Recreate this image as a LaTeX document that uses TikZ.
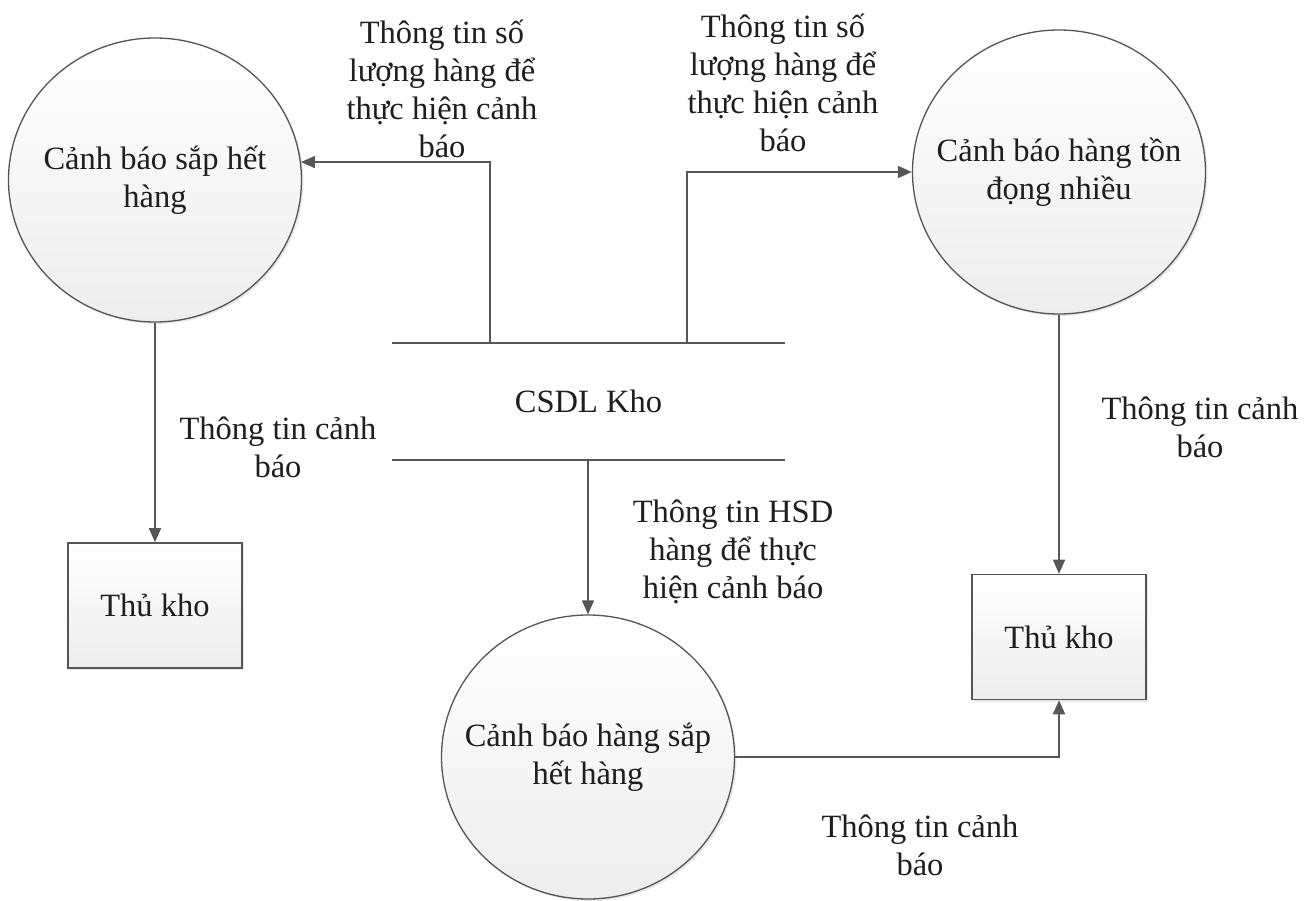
\documentclass[tikz,border=0pt]{standalone}
\usepackage{fontspec}
\setmainfont{Liberation Serif}
\usetikzlibrary{arrows.meta,shapes.geometric,shadows,calc}
\definecolor{linegray}{HTML}{555555}
\definecolor{txt}{HTML}{1E1E1E}
\begin{document}
\begin{tikzpicture}[x=1pt,y=-1pt,
  every node/.style={font=\fontsize{32.5}{38}\selectfont, text=txt},
  proc/.style={ellipse, draw=linegray, line width=1.3pt,
    minimum width=293pt, minimum height=284pt, inner sep=0pt,
    top color=white, bottom color=gray!14,
    drop shadow={opacity=0.18, shadow xshift=2pt, shadow yshift=-2pt},
    label={[align=center, inner sep=0pt, text=txt]center:#1}},
  ent/.style={rectangle, draw=linegray, line width=1.6pt,
    minimum width=174pt, minimum height=125pt, inner sep=0pt,
    top color=white, bottom color=gray!14,
    drop shadow={opacity=0.18, shadow xshift=2pt, shadow yshift=-2pt}},
  lbl/.style={align=center, inner sep=0pt},
  flow/.style={draw=linegray, line width=1.6pt,
    -{Triangle[length=14pt,width=12pt]}},
  storeline/.style={draw=linegray, line width=1.6pt}
]
\useasboundingbox (0,0) rectangle (1315,901);
\begin{scope}
\clip (0,0) rectangle (1315,901);

% processes (text carried by a centred label so the ellipse keeps its size)
\node[proc={Cảnh báo sắp hết\\hàng}] (c1) at (155,180) {};
\node[proc={Cảnh báo hàng tồn\\đọng nhiều}] (c2) at (1059,172) {};
\node[proc={Cảnh báo hàng sắp\\hết hàng}] (c3) at (588,757) {};

% external entities
\node[ent] (k1) at (155,605.5) {Thủ kho};
\node[ent] (k2) at (1059,637) {Thủ kho};

% data store
\node[inner sep=0pt, minimum width=393pt, minimum height=117pt] (db) at (588.5,401.5) {CSDL Kho};
\draw[storeline] (db.north west) -- (db.north east);
\draw[storeline] (db.south west) -- (db.south east);
\coordinate (t1) at (490,343);
\coordinate (t2) at (687,343);
\coordinate (b1) at (588,460);

% flows
\draw[flow] (t1) |- (c1.7);
\draw[flow] (t2) |- (c2.west);
\draw[flow] (c1.south) -- (k1.north);
\draw[flow] (c2.south) -- (k2.north);
\draw[flow] (b1) -- (c3.north);
\draw[flow] (c3.east) -| (k2.south);

% flow labels
\node[lbl] (l1) at (442,89) {Thông tin số\\lượng hàng để\\thực hiện cảnh\\báo};
\node[lbl] (l2) at (783,83) {Thông tin số\\lượng hàng để\\thực hiện cảnh\\báo};
\node[lbl] (l3) at (278,447) {Thông tin cảnh\\báo};
\node[lbl] (l4) at (1200,427) {Thông tin cảnh\\báo};
\node[lbl] (l5) at (733,552) {Thông tin HSD\\hàng để thực\\hiện cảnh báo};
\node[lbl] (l6) at (920,845) {Thông tin cảnh\\báo};
\end{scope}
\end{tikzpicture}
\end{document}
